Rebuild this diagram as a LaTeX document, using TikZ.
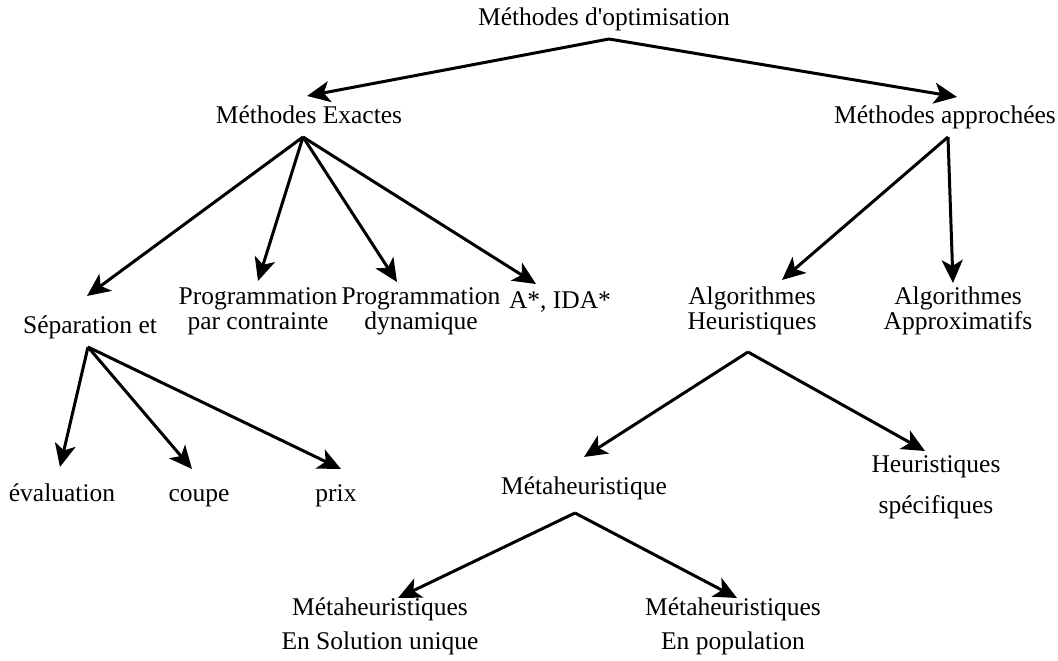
\documentclass[tikz,border=0pt]{standalone}
\usepackage{fontspec}
\setmainfont{Liberation Serif}
\usetikzlibrary{arrows.meta}

\begin{document}
\begin{tikzpicture}[x=1pt, y=-1pt, font=\fontsize{25.5}{25}\selectfont, align=center, >={Stealth[length=23pt,width=21pt,inset=6pt]}, line width=3pt, lbl/.style={text height=17pt, text depth=5pt}]
        % Frame
        \useasboundingbox (0,0) rectangle (1058,661);

        % Nodes
        \node[lbl] (root) at (604,20) {Méthodes d\textquotesingle optimisation};
        \node[lbl] (exact) at (309,118) {Méthodes Exactes};
        \node[lbl] (appr) at (945,118) {Méthodes approchées};

        \node[lbl] (sep) at (90,327) {Séparation et};
        \node (prog) at (258,311) {Programmation\\par contrainte};
        \node (dyn) at (421,311) {Programmation\\dynamique};
        \node[lbl] (astar) at (560,302) {A*, IDA*};
        \node (heur) at (752,311) {Algorithmes\\Heuristiques};
        \node (approx) at (958,311) {Algorithmes\\Approximatifs};

        \node[lbl] (eval) at (62,495) {évaluation};
        \node[lbl] (coupe) at (199,495) {coupe};
        \node[lbl] (prix) at (336,495) {prix};
        \node[lbl] (meta) at (584,488) {Métaheuristique};
        \node (spec) at (936,487) {Heuristiques\\[16pt]spécifiques};

        \node (sol) at (380,626) {Métaheuristiques\\[9pt]En Solution unique};
        \node (pop) at (733,626) {Métaheuristiques\\[9pt]En population};

        % Edges
        \draw[->] ([shift={(5,19)}]root.center) -- ([shift={(-2,-22)}]exact.center);
        \draw[->] ([shift={(5,19)}]root.center) -- ([shift={(12,-21)}]appr.center);

        \draw[->] ([shift={(-6,19)}]exact.center) -- ([shift={(-3,-31)}]sep.center);
        \draw[->] ([shift={(-6,19)}]exact.center) -- ([shift={(0,-30)}]prog.center);
        \draw[->] ([shift={(-6,19)}]exact.center) -- ([shift={(-24,-29)}]dyn.center);
        \draw[->] ([shift={(-6,19)}]exact.center) -- ([shift={(-24,-18)}]astar.center);

        \draw[->] ([shift={(3,19)}]appr.center) -- ([shift={(30,-31)}]heur.center);
        \draw[->] ([shift={(3,19)}]appr.center) -- ([shift={(-5,-28)}]approx.center);

        \draw[->] ([shift={(-2,20)}]sep.center) -- ([shift={(-2,-28)}]eval.center);
        \draw[->] ([shift={(-2,20)}]sep.center) -- ([shift={(-7,-26)}]coupe.center);
        \draw[->] ([shift={(-2,20)}]sep.center) -- ([shift={(5,-26)}]prix.center);

        \draw[->] ([shift={(-4,41)}]heur.center) -- ([shift={(0,-31)}]meta.center);
        \draw[->] ([shift={(-4,41)}]heur.center) -- ([shift={(-11,-36)}]spec.center);

        \draw[->] ([shift={(-9,25)}]meta.center) -- ([shift={(18,-28)}]sol.center);
        \draw[->] ([shift={(-9,25)}]meta.center) -- ([shift={(4,-28)}]pop.center);
    \end{tikzpicture}
\end{document}
